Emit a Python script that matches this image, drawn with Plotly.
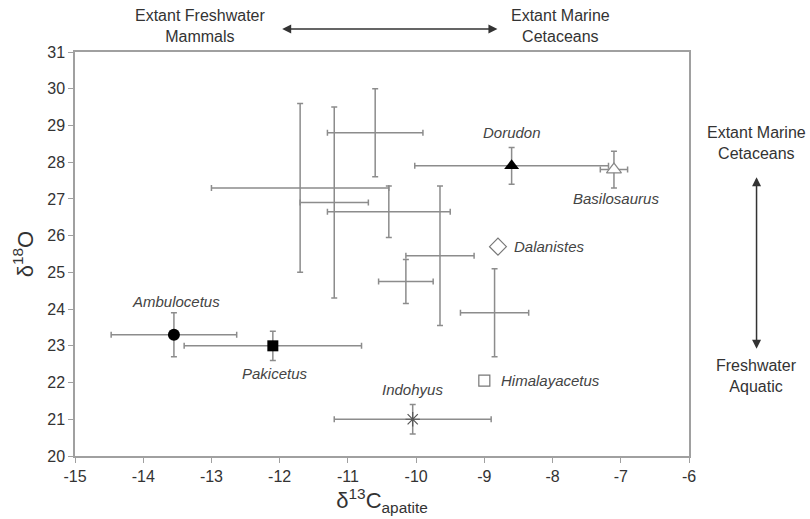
import plotly.graph_objects as go

# Named taxa: mean isotope values with 1-sigma ranges
taxa = ["Ambulocetus", "Pakicetus", "Indohyus", "Himalayacetus",
        "Dalanistes", "Dorudon", "Basilosaurus"]
taxa_c13 = [-13.55, -12.1, -10.05, -9.0, -8.8, -8.6, -7.1]
taxa_o18 = [23.3, 23.0, 21.0, 22.05, 25.7, 27.9, 27.8]
taxa_c13_err = [0.92, 1.3, 1.15, 0, 0, 1.42, 0.2]
taxa_o18_err = [0.6, 0.4, 0.4, 0, 0, 0.5, 0.5]

# Unlabelled comparison groups (drawn as crosses only)
grp_c13 = [-11.7, -11.2, -10.6, -10.4, -10.15, -9.65, -8.85]
grp_o18 = [27.3, 26.9, 28.8, 26.65, 24.75, 25.45, 23.9]
grp_c13_err = [1.3, 0.5, 0.7, 0.9, 0.4, 0.5, 0.5]
grp_o18_err = [2.3, 2.6, 1.2, 0.7, 0.6, 1.9, 1.2]

x_ticks = list(range(-15, -5))
y_ticks = list(range(20, 32))

BAR = "#8c8c8c"
AXIS = "#a0a0a0"
TXT = "#333333"
LBL = "#444444"

marker_style = {
    "Ambulocetus": dict(symbol="circle", size=12, color="black"),
    "Pakicetus": dict(symbol="square", size=11, color="black"),
    "Indohyus": dict(symbol="asterisk-open", size=12, color="#555555",
                     line=dict(color="#555555", width=1.2)),
    "Himalayacetus": dict(symbol="square-open", size=11, color="#777777",
                          line=dict(color="#777777", width=1.2)),
    "Dalanistes": dict(symbol="diamond-open", size=13, color="#777777",
                       line=dict(color="#777777", width=1.2)),
    "Dorudon": dict(symbol="triangle-up", size=13, color="black"),
    "Basilosaurus": dict(symbol="triangle-up", size=13, color="white",
                         line=dict(color="#888888", width=1.2)),
}

# label placement relative to each marker (pixels)
label_pos = {
    "Ambulocetus": dict(xshift=2, yshift=33, xanchor="center"),
    "Pakicetus": dict(xshift=2, yshift=-28, xanchor="center"),
    "Indohyus": dict(xshift=0, yshift=30, xanchor="center"),
    "Himalayacetus": dict(xshift=15, yshift=0, xanchor="left"),
    "Dalanistes": dict(xshift=14, yshift=0, xanchor="left"),
    "Dorudon": dict(xshift=0, yshift=33, xanchor="center"),
    "Basilosaurus": dict(xshift=2, yshift=-29, xanchor="center"),
}

fig = go.Figure()

fig.add_trace(go.Scatter(
    x=grp_c13, y=grp_o18, mode="markers",
    marker=dict(size=1, color="rgba(0,0,0,0)"),
    error_x=dict(type="data", array=grp_c13_err, color=BAR, thickness=1.5, width=3),
    error_y=dict(type="data", array=grp_o18_err, color=BAR, thickness=1.5, width=3),
    showlegend=False, hoverinfo="skip",
))

for i, name in enumerate(taxa):
    fig.add_trace(go.Scatter(
        x=[taxa_c13[i]], y=[taxa_o18[i]], mode="markers",
        marker=marker_style[name],
        error_x=dict(type="data", array=[taxa_c13_err[i]], color=BAR,
                     thickness=1.5, width=3, visible=taxa_c13_err[i] > 0),
        error_y=dict(type="data", array=[taxa_o18_err[i]], color=BAR,
                     thickness=1.5, width=3, visible=taxa_o18_err[i] > 0),
        showlegend=False, name=name,
    ))
    p = label_pos[name]
    fig.add_annotation(
        x=taxa_c13[i], y=taxa_o18[i], text="<i>%s</i>" % name, showarrow=False,
        xshift=p["xshift"], yshift=p["yshift"], xanchor=p["xanchor"],
        yanchor="middle", font=dict(family="Liberation Sans", size=15, color=LBL),
    )

# direction arrows and their captions (axis-domain coordinates)
ARROW = "#333333"
dom = dict(xref="x domain", yref="y domain", axref="x domain", ayref="y domain")
fig.add_annotation(**dom, x=0.688, y=1.057, ax=0.335, ay=1.057, text="",
                   showarrow=True, arrowhead=2, arrowside="end+start",
                   arrowsize=1.2, arrowwidth=1.5, arrowcolor=ARROW)
fig.add_annotation(**dom, x=1.11, y=0.69, ax=1.11, ay=0.262, text="",
                   showarrow=True, arrowhead=2, arrowside="end+start",
                   arrowsize=1.2, arrowwidth=1.5, arrowcolor=ARROW)

cap_font = dict(family="Liberation Sans", size=16, color=TXT)
fig.add_annotation(xref="paper", yref="paper", x=0.205, y=1.064,
                   text="Extant Freshwater<br>Mammals", showarrow=False,
                   font=cap_font, xanchor="center", yanchor="middle")
fig.add_annotation(xref="paper", yref="paper", x=0.79, y=1.064,
                   text="Extant Marine<br>Cetaceans", showarrow=False,
                   font=cap_font, xanchor="center", yanchor="middle")
fig.add_annotation(xref="paper", yref="paper", x=1.11, y=0.775,
                   text="Extant Marine<br>Cetaceans", showarrow=False,
                   font=cap_font, xanchor="center", yanchor="middle")
fig.add_annotation(xref="paper", yref="paper", x=1.11, y=0.198,
                   text="Freshwater<br>Aquatic", showarrow=False,
                   font=cap_font, xanchor="center", yanchor="middle")

axis_common = dict(
    showgrid=False, zeroline=False, showline=True, linecolor=AXIS, linewidth=1.5,
    mirror=True, ticks="outside", ticklen=5, tickcolor=AXIS, tickwidth=1.2,
    tickfont=dict(family="Liberation Sans", size=16, color=TXT),
)

fig.update_xaxes(range=[-15, -6], tickvals=x_ticks,
                 ticktext=[str(v) for v in x_ticks],
                 title=dict(text="δ<sup>13</sup>C<sub>apatite</sub>",
                            font=dict(family="Liberation Sans", size=22, color=TXT),
                            standoff=2),
                 **axis_common)
fig.update_yaxes(range=[20, 31], tickvals=y_ticks,
                 ticktext=[str(v) for v in y_ticks],
                 title=dict(text="δ<sup>18</sup>O",
                            font=dict(family="Liberation Sans", size=22, color=TXT),
                            standoff=8),
                 **axis_common)

fig.update_layout(
    width=810, height=519,
    margin=dict(l=75, r=121, t=52, b=63, autoexpand=False),
    paper_bgcolor="white", plot_bgcolor="white",
)

fig.write_html("out.html")
